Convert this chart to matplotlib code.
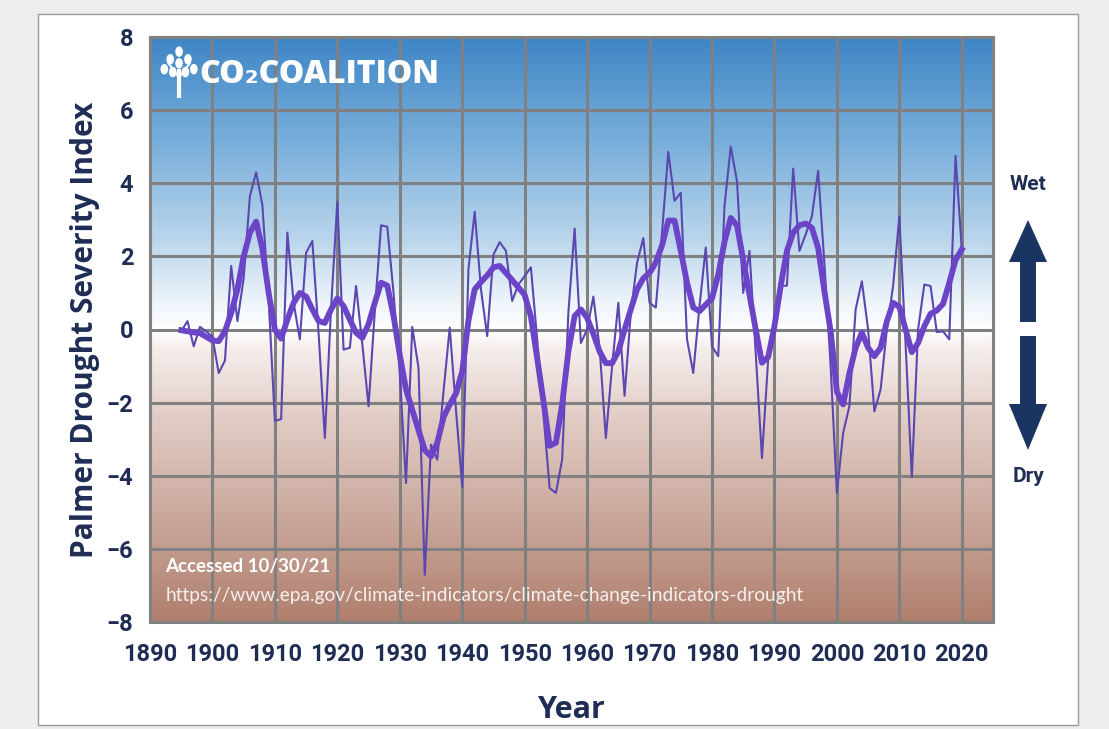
import numpy as np
import matplotlib.pyplot as plt
from matplotlib.colors import LinearSegmentedColormap
from matplotlib.patches import Rectangle, Polygon, Ellipse

years = list(range(1895, 2021))

# annual Palmer Drought Severity Index, contiguous US
annual_pdsi = [
    -0.05, 0.23, -0.46, 0.07, -0.05, -0.2, -1.19, -0.85, 1.74, 0.23,
    1.4, 3.65, 4.3, 3.4, 0.8, -2.5, -2.45, 2.65, 0.73, -0.27,
    2.1, 2.42, -0.1, -2.97, 0.6, 3.5, -0.55, -0.5, 1.19, -0.4,
    -2.1, 0.5, 2.85, 2.81, 1.0, -1.2, -4.2, 0.07, -1.05, -6.71,
    -3.15, -3.56, -1.7, 0.05, -2.2, -4.3, 1.66, 3.22, 1.1, -0.18,
    2.05, 2.39, 2.15, 0.78, 1.23, 1.46, 1.7, -0.27, -2.3, -4.34,
    -4.47, -3.56, 0.46, 2.76, -0.37, 0.0, 0.9, -0.5, -2.97, -1.0,
    0.73, -1.81, 0.46, 1.83, 2.5, 0.73, 0.6, 2.65, 4.86, 3.52,
    3.74, -0.27, -1.19, 0.64, 2.24, -0.46, -0.73, 3.38, 5.0, 4.06,
    1.0, 2.15, -0.64, -3.52, -0.8, 0.1, 1.19, 1.2, 4.4, 2.15,
    2.6, 3.1, 4.34, 1.8, -1.0, -4.47, -2.83, -2.1, 0.55, 1.32,
    0.0, -2.24, -1.64, 0.0, 1.19, 3.09, -0.4, -4.04, 0.0, 1.23,
    1.19, -0.07, -0.05, -0.27, 4.75, 2.2,
]

# nine-year weighted average
avg_9yr = [
    -0.02, -0.05, -0.08, -0.1, -0.2, -0.3, -0.32, -0.05, 0.45, 1.1,
    2.0, 2.65, 2.95, 2.2, 1.0, 0.0, -0.25, 0.27, 0.73, 1.0,
    0.9, 0.55, 0.23, 0.18, 0.55, 0.85, 0.64, 0.27, -0.09, -0.23,
    0.15, 0.73, 1.28, 1.2, 0.37, -0.7, -1.64, -2.2, -2.75, -3.3,
    -3.47, -3.1, -2.4, -2.05, -1.75, -1.15, 0.25, 1.1, 1.3, 1.48,
    1.7, 1.74, 1.55, 1.35, 1.15, 0.95, 0.35, -0.78, -1.95, -3.18,
    -3.1, -2.05, -0.6, 0.37, 0.55, 0.32, -0.12, -0.6, -0.92, -0.92,
    -0.6, 0.0, 0.55, 1.1, 1.4, 1.55, 1.83, 2.3, 2.98, 2.98,
    2.15, 1.28, 0.6, 0.5, 0.68, 0.85, 1.5, 2.4, 3.05, 2.85,
    1.9, 0.95, 0.0, -0.91, -0.75, 0.09, 1.19, 2.15, 2.65, 2.85,
    2.9, 2.78, 2.23, 1.05, -0.05, -1.7, -2.05, -1.2, -0.5, -0.09,
    -0.5, -0.73, -0.5, 0.22, 0.73, 0.62, 0.0, -0.62, -0.37, 0.09,
    0.43, 0.52, 0.7, 1.28, 1.9, 2.19,
]

x_ticks = list(range(1890, 2021, 10))
y_ticks = list(range(-8, 9, 2))

navy = "#1f2d55"
label_font = ["Roboto", "DejaVu Sans"]

fig = plt.figure(figsize=(11.09, 7.29), dpi=100, facecolor="#ededed")
fig.patches.append(Rectangle((38 / 1109, 4 / 729), 1040 / 1109, 711 / 729,
                             transform=fig.transFigure, facecolor="white",
                             edgecolor="#9a9a9a", linewidth=1, zorder=-10))

ax = fig.add_axes([150 / 1109, 1 - 622 / 729, 843 / 1109, 585 / 729])

# blue-to-white-to-brown background
grad = LinearSegmentedColormap.from_list("bg", [
    (0.0, "#b07f6e"), (0.15, "#c6a295"), (0.35, "#e2cdc6"), (0.47, "#f6efed"),
    (0.5, "#ffffff"), (0.54, "#f1f6fb"), (0.65, "#bcd7ec"), (0.82, "#79afdb"),
    (1.0, "#3f86c6")])
ax.imshow(np.linspace(0, 1, 400).reshape(-1, 1), cmap=grad, origin="lower",
          extent=[1890, 2025, -8, 8], aspect="auto", zorder=0)

ax.plot(years, annual_pdsi, color="#5b47b0", linewidth=1.5, zorder=3)
ax.plot(years, avg_9yr, color="#6c44c8", linewidth=4.2, zorder=4,
        solid_joinstyle="round")
ax.axhline(0, color="#15203d", linewidth=1.8, linestyle=(0, (4, 3)), zorder=2)

ax.set_xlim(1890, 2025)
ax.set_ylim(-8, 8)
ax.set_xticks(x_ticks)
ax.set_yticks(y_ticks)
ax.grid(True, color="#808080", linewidth=2.2, zorder=1)
ax.set_axisbelow(False)
for s in ax.spines.values():
    s.set_color("#808080")
    s.set_linewidth(2.2)
ax.tick_params(length=0, pad=12, labelcolor=navy)
ax.tick_params(axis="x", pad=15)
for lab in ax.get_xticklabels() + ax.get_yticklabels():
    lab.set_family(label_font)
    lab.set_fontweight("bold")
    lab.set_fontsize(17)

ax.set_xlabel("Year", fontsize=22, fontweight="bold", color=navy,
              family=["Open Sans", "DejaVu Sans"], labelpad=21)
ax.set_ylabel("Palmer Drought Severity Index", fontsize=21.5, fontweight="bold",
              color=navy, family=["Open Sans", "DejaVu Sans"], labelpad=5)

# source notes
ax.text(0.018, 0.095, "Accessed 10/30/21", transform=ax.transAxes, color="white",
        fontsize=13.5, family=["Lato", "DejaVu Sans"], fontweight="bold", va="center")
ax.text(0.018, 0.045, "https://www.epa.gov/climate-indicators/climate-change-indicators-drought",
        transform=ax.transAxes, color="#f4f0ee", fontsize=13.8,
        family=["Lato", "DejaVu Sans"], va="center")

# logo
ax.text(0.058, 0.935, "CO₂COALITION", transform=ax.transAxes, color="white",
        fontsize=23, fontweight="heavy", family=["Open Sans", "DejaVu Sans"],
        va="center")
tree = dict(transform=ax.transAxes, color="white", zorder=6)
ax.plot([0.0345, 0.0345], [0.895, 0.945], linewidth=3, solid_capstyle="butt", **tree)
ax.plot([0.0345, 0.022], [0.93, 0.955], linewidth=1.5, **tree)
ax.plot([0.0345, 0.047], [0.93, 0.955], linewidth=1.5, **tree)
for lx, ly in [(0.0345, 0.975), (0.024, 0.962), (0.045, 0.962), (0.017, 0.945),
               (0.052, 0.945), (0.027, 0.94), (0.042, 0.94), (0.0345, 0.955)]:
    ax.add_patch(Ellipse((lx, ly), 0.009, 0.018, transform=ax.transAxes,
                         facecolor="white", edgecolor="none", zorder=6))

# wet / dry arrows
arrow_color = "#1b3562"
W, H = 1109, 729
def fig_pt(px, py):
    return (px / W, 1 - py / H)
up = [fig_pt(*p) for p in [(1020, 322), (1020, 262), (1009, 262), (1028, 220),
                            (1047, 262), (1036, 262), (1036, 322)]]
down = [fig_pt(*p) for p in [(1020, 336), (1020, 404), (1009, 404), (1028, 450),
                              (1047, 404), (1036, 404), (1036, 336)]]
fig.patches.append(Polygon(up, closed=True, transform=fig.transFigure,
                           facecolor=arrow_color, edgecolor="none"))
fig.patches.append(Polygon(down, closed=True, transform=fig.transFigure,
                           facecolor=arrow_color, edgecolor="none"))
fig.text(1028 / W, 1 - 184 / H, "Wet", ha="center", va="center", color=navy,
         fontsize=15, fontweight="bold", family=label_font)
fig.text(1028 / W, 1 - 477 / H, "Dry", ha="center", va="center", color=navy,
         fontsize=15, fontweight="bold", family=label_font)

fig.savefig("out.png", dpi=100, facecolor=fig.get_facecolor())
